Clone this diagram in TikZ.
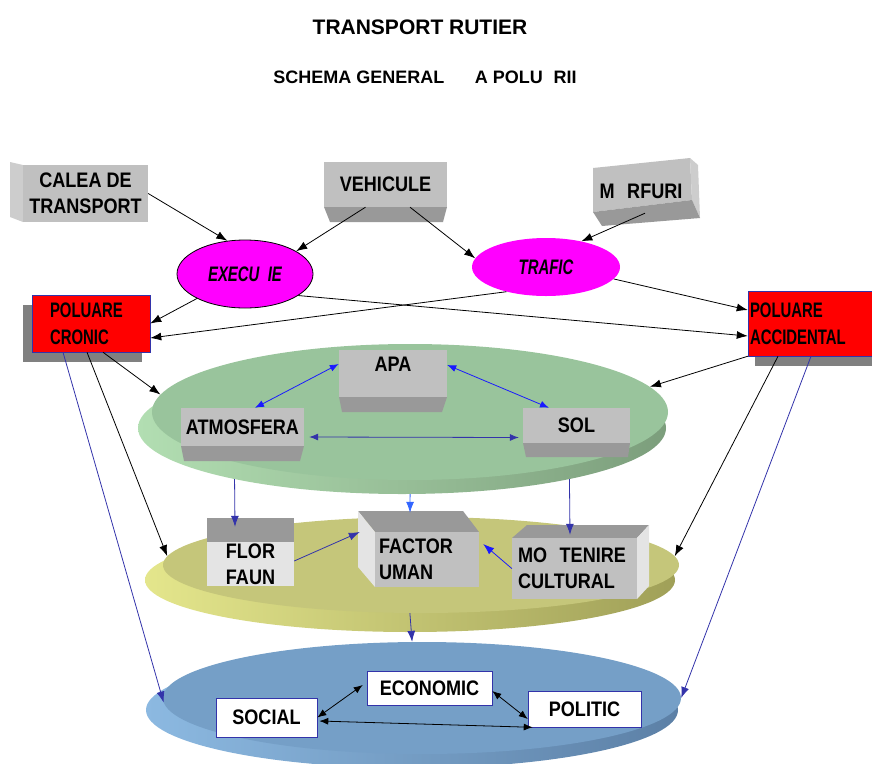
\documentclass[tikz,border=0pt]{standalone}
\usepackage{fontspec}
\setmainfont{Liberation Sans}
\newfontfamily\condfont{Liberation Sans}[FakeStretch=0.86]
\newfontfamily\narrowfont{Liberation Sans}[FakeStretch=0.71]
\usetikzlibrary{shapes,arrows.meta}
\definecolor{boxfront}{RGB}{192,192,192}
\definecolor{boxside}{RGB}{205,205,205}
\definecolor{boxdark}{RGB}{153,153,153}
\definecolor{boxlight}{RGB}{228,228,228}
\definecolor{shadowgray}{RGB}{128,128,128}
\definecolor{pollred}{RGB}{255,0,0}
\definecolor{ovalpink}{RGB}{255,0,255}
\definecolor{medtop}{RGB}{153,196,156}
\definecolor{medside}{RGB}{124,158,124}
\definecolor{medlight}{RGB}{178,222,178}
\definecolor{viutop}{RGB}{197,198,122}
\definecolor{viuside}{RGB}{160,160,88}
\definecolor{viulight}{RGB}{228,230,140}
\definecolor{soctop}{RGB}{117,159,199}
\definecolor{socside}{RGB}{92,128,166}
\definecolor{soclight}{RGB}{140,185,225}
\definecolor{darkblue}{RGB}{51,51,170}
\definecolor{brightblue}{RGB}{26,26,255}
\definecolor{lightblue}{RGB}{51,102,255}
\tikzstyle{arrow} = [line width=0.8pt,->,>={Latex[length=11pt,width=8pt]}]
\tikzstyle{dblarrow} = [line width=0.8pt,<->,>={Latex[length=9pt,width=7pt]}]
\tikzstyle{box} = [rectangle,inner sep=0pt,align=center,font=\condfont\bfseries\fontsize{21}{26}\selectfont]
\tikzstyle{redbox} = [box,fill=pollred,draw=darkblue,line width=0.5pt,align=left,font=\narrowfont\bfseries\fontsize{21}{27}\selectfont]
\tikzstyle{oval} = [ellipse,fill=ovalpink,inner sep=0pt,font=\narrowfont\bfseries\itshape\fontsize{21}{21}\selectfont]
\tikzstyle{disc} = [ellipse,inner sep=0pt]

\begin{document}
\begin{tikzpicture}[x=1pt,y=-1pt]
  \useasboundingbox (0,0) rectangle (872,763);
  \node[font=\bfseries\fontsize{21}{21}\selectfont] (titlu) at (420,27) {TRANSPORT RUTIER};
  \node[font=\bfseries\fontsize{18}{18}\selectfont] (subtitlu) at (425,77) {SCHEMA GENERAL\hspace{1.7em}A POLU\hspace{0.6em}RII};

  \node[disc,left color=medlight,middle color=medside,right color=medside,minimum width=528pt,minimum height=132pt] (mediubaza) at (402,428) {};
  \node[disc,fill=medtop,minimum width=516pt,minimum height=136pt] (mediu) at (410,412) {};
  \node[disc,left color=viulight,middle color=viuside,right color=viuside,minimum width=530pt,minimum height=104pt] (viubaza) at (410,580) {};
  \node[disc,fill=viutop,minimum width=516pt,minimum height=96pt] (viu) at (421,565) {};
  \node[disc,left color=soclight,middle color=socside,right color=socside,minimum width=532pt,minimum height=116pt] (societatebaza) at (412,710) {};
  \node[disc,fill=soctop,minimum width=518pt,minimum height=112pt] (societate) at (422,698) {};

  \fill[boxside] (10,162) -- (23,165) -- (23,222) -- (10,217) -- cycle;
  \node[box,fill=boxfront,minimum width=125pt,minimum height=57pt] (calea) at (85.5,193.5) {CALEA DE\\TRANSPORT};
  \fill[boxdark] (324,207) -- (447,207) -- (443,222) -- (330,222) -- cycle;
  \node[box,fill=boxfront,minimum width=123pt,minimum height=45pt] (vehicule) at (385.5,184.5) {VEHICULE};
  \fill[boxfront] (593,168) -- (690,158) -- (692,200) -- (593,212) -- cycle;
  \fill[boxside] (690,158) -- (698,165) -- (700,218) -- (692,200) -- cycle;
  \fill[boxdark] (593,212) -- (692,200) -- (700,218) -- (602,226) -- cycle;
  \node[box,minimum width=97pt,minimum height=44pt] (marfuri) at (641,191) {M\hspace{0.6em}RFURI};

  \node[oval,draw=black,line width=0.8pt,minimum width=136pt,minimum height=68pt] (executie) at (245,274) {EXECU\hspace{0.4em}IE};
  \node[oval,minimum width=148pt,minimum height=58pt] (trafic) at (546,267) {TRAFIC};

  \fill[shadowgray] (23,305) rectangle (142,362);
  \node[redbox,minimum width=118pt,minimum height=57pt,text width=82pt] (cronic) at (91,323.5) {POLUARE\\CRONIC};
  \fill[shadowgray] (755,356) rectangle (872,366);
  \node[redbox,minimum width=124pt,minimum height=65pt,text width=120pt] (accidental) at (810,323.5) {POLUARE\\ACCIDENTAL};

  \fill[boxdark] (339,397) -- (447,397) -- (442,412) -- (342,412) -- cycle;
  \node[box,fill=boxfront,minimum width=108pt,minimum height=47pt,text depth=18pt] (apa) at (393,373.5) {APA};
  \fill[boxdark] (181,446) -- (304,446) -- (300,461) -- (184,461) -- cycle;
  \node[box,fill=boxfront,minimum width=123pt,minimum height=38pt] (atmosfera) at (242.5,427) {ATMOSFERA};
  \fill[boxdark] (523,443) -- (630,443) -- (628,457) -- (526,457) -- cycle;
  \node[box,fill=boxfront,minimum width=107pt,minimum height=35pt] (sol) at (576.5,425.5) {SOL};

  \fill[boxdark] (207,518) rectangle (294,542);
  \node[box,fill=boxlight,minimum width=87pt,minimum height=44pt] (flora) at (250.5,564) {FLOR\\FAUN};
  \fill[boxdark] (358,511) -- (463,511) -- (479,532) -- (375,532) -- cycle;
  \fill[boxlight] (358,511) -- (375,532) -- (375,587) -- (358,567) -- cycle;
  \node[box,fill=boxfront,minimum width=104pt,minimum height=55pt,text width=96pt,align=left] (factor) at (427,559.5) {FACTOR\\UMAN};
  \fill[boxdark] (512,538) -- (527,525) -- (649,525) -- (637,538) -- cycle;
  \fill[boxlight] (637,538) -- (649,525) -- (649,586) -- (637,599) -- cycle;
  \node[box,fill=boxfront,minimum width=125pt,minimum height=61pt,text width=113pt,align=left] (mostenire) at (574.5,568.5) {MO\hspace{0.6em}TENIRE\\CULTURAL};

  \node[box,fill=white,draw=darkblue,line width=0.6pt,minimum width=101pt,minimum height=39pt] (social) at (266.5,717.5) {SOCIAL};
  \node[box,fill=white,draw=darkblue,line width=0.6pt,minimum width=125pt,minimum height=34pt] (economic) at (429.5,688) {ECONOMIC};
  \node[box,fill=white,draw=darkblue,line width=0.6pt,minimum width=113pt,minimum height=36pt] (politic) at (584.5,709) {POLITIC};

  \draw[arrow] (calea.east) -- (executie.118);
  \draw[arrow] ([xshift=-20pt]vehicule.south) -- (executie.24);
  \draw[arrow] ([xshift=24.5pt]vehicule.south) -- (trafic.173);
  \draw[arrow] ([xshift=4pt]marfuri.south) -- (trafic.36);
  \draw[arrow] (trafic.-10) -- ([yshift=13.5pt]accidental.west);
  \draw[arrow] (executie.-22) -- ([yshift=-12.5pt]accidental.west);
  \draw[arrow] (executie.207) -- (cronic.east);
  \draw[arrow] (trafic.212) -- ([yshift=-14.5pt]cronic.east);

  \draw[arrow] ([xshift=12pt]cronic.south) -- (mediu.176);
  \draw[arrow] ([xshift=-4pt]cronic.south) -- (viu.178);
  \draw[arrow,darkblue] ([xshift=-28pt]cronic.south) -- (societate.181);
  \draw[arrow] (accidental.south west) -- (mediu.6);
  \draw[arrow] ([xshift=-32pt]accidental.south) -- (viu.2);
  \draw[arrow,darkblue] ([xshift=1pt]accidental.south) -- (societate.0);

  \draw[dblarrow,brightblue] ([yshift=9.5pt]apa.west) -- ([xshift=12.5pt]atmosfera.north);
  \draw[dblarrow,brightblue] ([yshift=8.5pt]apa.east) -- ([xshift=-27.5pt]sol.north);
  \draw[dblarrow,darkblue] ([xshift=5pt,yshift=-10pt]atmosfera.east) -- ([xshift=-4pt,yshift=-12pt]sol.west);

  \draw[arrow,darkblue] (mediubaza.197) -- ([xshift=-15.5pt,yshift=15pt]flora.north);
  \draw[arrow,lightblue] (mediubaza.-83) -- ([xshift=-17pt,yshift=19pt]factor.north);
  \draw[arrow,darkblue] (mediubaza.-17) -- ([xshift=-4.5pt,yshift=3pt]mostenire.north);
  \draw[arrow,darkblue] ([yshift=3pt]flora.east) -- ([xshift=-15pt,yshift=27.5pt]factor.west);
  \draw[arrow,brightblue] (mostenire.west) -- ([xshift=4pt,yshift=15.5pt]factor.east);
  \draw[arrow,darkblue] (viu.-103) -- (societate.100);

  \draw[dblarrow] (social.east) -- ([xshift=-4pt,yshift=3pt]economic.west);
  \draw[dblarrow] ([yshift=-3pt]economic.east) -- ([yshift=-10pt]politic.west);
  \draw[dblarrow] ([xshift=2pt,yshift=-3.5pt]social.east) -- ([xshift=5pt]politic.south west);
\end{tikzpicture}
\end{document}
